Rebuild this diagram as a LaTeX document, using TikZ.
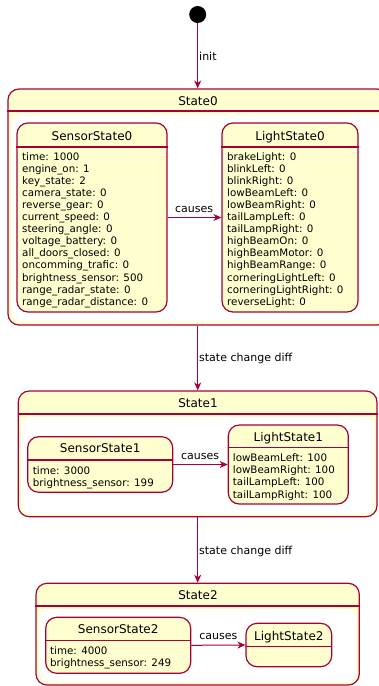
\documentclass[tikz,border=0pt]{standalone}
\usepackage{fontspec}
\setmainfont{DejaVu Sans}
\usetikzlibrary{arrows.meta}
\definecolor{brd}{HTML}{A80036}
\definecolor{yel}{HTML}{FEFECE}
\begin{document}
\begin{tikzpicture}[x=1pt,y=-1pt,
 stbox/.style={draw=brd, fill=yel, line width=1.2pt, rounded corners=11pt, inner sep=0pt},
 sepline/.style={draw=brd, line width=1.2pt},
 innerw/.style={fill=white, rounded corners=9pt},
 nm/.style={font=\fontsize{12}{14}\selectfont, text height=8.8pt, text depth=0pt, inner sep=0pt},
 attrs/.style={font=\fontsize{10.3}{12.1}\selectfont, align=left, anchor=north west, inner sep=0pt},
 lblx/.style={font=\fontsize{11}{13}\selectfont, text height=8pt, text depth=0pt, inner sep=0pt},
 arrx/.style={draw=brd, line width=1pt, -{Stealth[length=8pt,width=7pt,inset=2.5pt]}}
]
\useasboundingbox (0,0) rectangle (378,686);

% initial
\node[circle, fill=black, minimum size=17pt, inner sep=0pt] (init) at (197.7,14.5) {};

% ---------- State0
\node[stbox, minimum width=380pt, minimum height=236pt] (st0) at (198,207) {};
\path[innerw] (11.5,114.5) rectangle (384.5,321.5);
\draw[sepline] (st0.west |- 0,111) -- (st0.east |- 0,111);
\node[nm] (t0) at (198,100.6) {State0};

\node[stbox, minimum width=150pt, minimum height=189pt] (ss0) at (92,217.5) {};
\draw[sepline] (ss0.west |- 0,147) -- (ss0.east |- 0,147);
\node[nm] (ss0n) at (92,136) {SensorState0};
\node[attrs] (ss0a) at (22,152) {time: 1000\\engine\_on: 1\\key\_state: 2\\camera\_state: 0\\reverse\_gear: 0\\current\_speed: 0\\steering\_angle: 0\\voltage\_battery: 0\\all\_doors\_closed: 0\\oncomming\_trafic: 0\\brightness\_sensor: 500\\range\_radar\_state: 0\\range\_radar\_distance: 0};

\node[stbox, minimum width=136pt, minimum height=189pt] (ls0) at (290,217.5) {};
\draw[sepline] (ls0.west |- 0,147) -- (ls0.east |- 0,147);
\node[nm] (ls0n) at (290,136) {LightState0};
\node[attrs] (ls0a) at (227,152) {brakeLight: 0\\blinkLeft: 0\\blinkRight: 0\\lowBeamLeft: 0\\lowBeamRight: 0\\tailLampLeft: 0\\tailLampRight: 0\\highBeamOn: 0\\highBeamMotor: 0\\highBeamRange: 0\\corneringLightLeft: 0\\corneringLightRight: 0\\reverseLight: 0};

\draw[arrx] (ss0.east) -- (ls0.west);
\node[lblx] (c0) at (194,208) {causes};

% ---------- State1
\node[stbox, minimum width=358.7pt, minimum height=125.7pt] (st1) at (197.65,453.85) {};
\path[innerw] (21.5,417) rectangle (374,514);
\draw[sepline] (st1.west |- 0,414) -- (st1.east |- 0,414);
\node[nm] (t1) at (198,402.7) {State1};

\node[stbox, minimum width=145pt, minimum height=55.6pt] (ss1) at (100.2,464.5) {};
\draw[sepline] (ss1.west |- 0,460) -- (ss1.east |- 0,460);
\node[nm] (ss1n) at (100.2,448.3) {SensorState1};
\node[attrs] (ss1a) at (32.7,466) {time: 3000\\brightness\_sensor: 199};

\node[stbox, minimum width=120pt, minimum height=79pt] (ls1) at (288.3,464.5) {};
\draw[sepline] (ls1.west |- 0,447.7) -- (ls1.east |- 0,447.7);
\node[nm] (ls1n) at (288.3,436.7) {LightState1};
\node[attrs] (ls1a) at (232.7,453.7) {lowBeamLeft: 100\\lowBeamRight: 100\\tailLampLeft: 100\\tailLampRight: 100};

\draw[arrx] (ss1.east) -- (ls1.west);
\node[lblx] (c1) at (200,455) {causes};

% ---------- State2
\node[stbox, minimum width=323.3pt, minimum height=101.7pt] (st2) at (197.65,634.15) {};
\path[innerw] (39.5,609) rectangle (356,682);
\draw[sepline] (st2.west |- 0,606) -- (st2.east |- 0,606);
\node[nm] (t2) at (198,595) {State2};

\node[stbox, minimum width=145pt, minimum height=56pt] (ss2) at (118.2,645.3) {};
\draw[sepline] (ss2.west |- 0,640.7) -- (ss2.east |- 0,640.7);
\node[nm] (ss2n) at (118.2,629) {SensorState2};
\node[attrs] (ss2a) at (50,646) {time: 4000\\brightness\_sensor: 249};

\node[stbox, minimum width=85.7pt, minimum height=43.4pt] (ls2) at (288.85,645) {};
\draw[sepline] (ls2.west |- 0,646.7) -- (ls2.east |- 0,646.7);
\node[nm] (ls2n) at (288.85,635.7) {LightState2};

\draw[arrx] (ss2.east) -- (ls2.west);
\node[lblx] (c2) at (218.3,635.7) {causes};

% ---------- transitions between states
\draw[arrx] (init) -- (init |- st0.north);
\node[lblx, anchor=west] (li) at (199,56.7) {init};
\draw[arrx] (st0.south -| init) -- (init |- st1.north);
\node[lblx, anchor=west] (l1) at (199,357.7) {state change diff};
\draw[arrx] (st1.south -| init) -- (init |- st2.north);
\node[lblx, anchor=west] (l2) at (199,550.7) {state change diff};
\end{tikzpicture}
\end{document}
